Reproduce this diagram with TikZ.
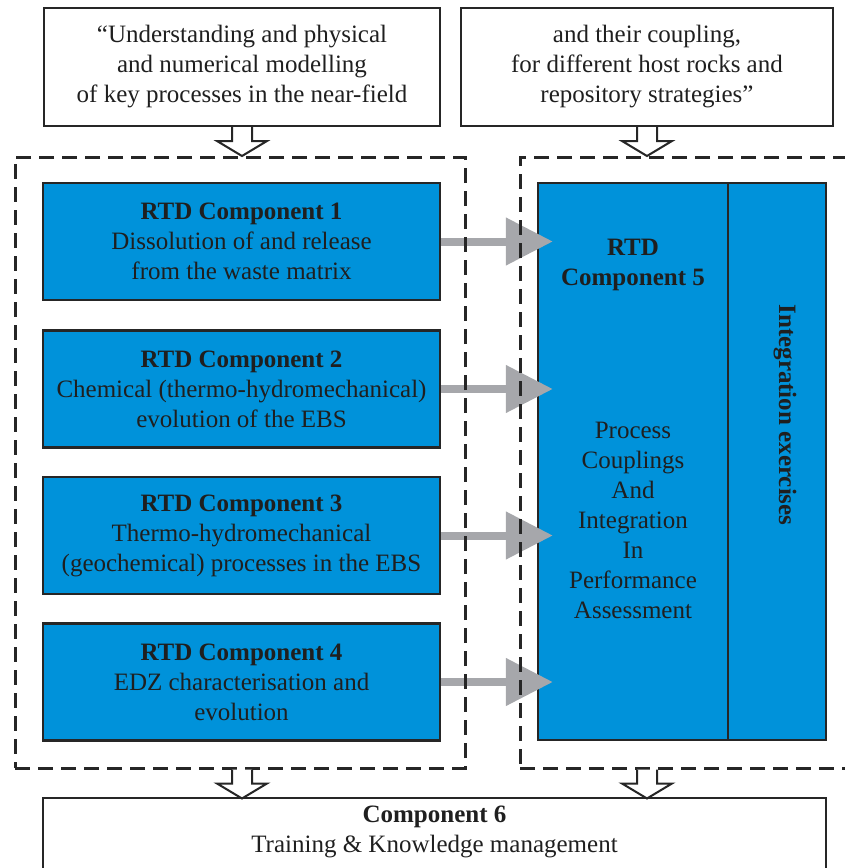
\documentclass[tikz,border=0pt]{standalone}
\usepackage{fontspec}
\setmainfont{Liberation Serif}
\usetikzlibrary{arrows.meta}
\definecolor{rtdblue}{RGB}{0,146,218}
\definecolor{flowgray}{RGB}{166,167,171}
\newcommand{\diagfont}{\fontsize{12.5}{15}\selectfont}
\newcommand{\hollowdown}[1]{\draw[hollow] (#1) ++(-10,0) -- ++(0,14) -- ++(-15,0) -- ++(25,15) -- ++(25,-15) -- ++(-15,0) -- ++(0,-14);}

\begin{document}
\begin{tikzpicture}[x=0.5pt, y=-0.5pt,
    every node/.style={font=\diagfont, text=black!88},
    quote/.style={draw=black!85, line width=1pt, align=center, minimum width=198pt, minimum height=59pt},
    rtd/.style={draw=black!85, line width=1.2pt, fill=rtdblue, align=center, minimum width=198.5pt, minimum height=58.5pt},
    column/.style={draw=black!85, line width=1.2pt, fill=rtdblue, minimum height=278.5pt},
    frame/.style={draw=black!85, line width=1.5pt, dash pattern=on 7.5pt off 4pt},
    hollow/.style={draw=black!85, line width=1pt, fill=white},
    feed/.style={-{Triangle[length=23.5pt, width=23pt]}, line width=4pt, flowgray}
]
\useasboundingbox (0,0) rectangle (845,868);
\clip (0,0) rectangle (845,868);

\node[quote] (topL) at (242,67) {“Understanding and physical\\and numerical modelling\\of key processes in the near-field};
\node[quote, minimum width=186pt] (topR) at (647,67) {and their coupling,\\for different host rocks and\\repository strategies”};

\node[rtd] (rtd1) at (241.5,241.5) {\textbf{RTD Component 1}\\Dissolution of and release\\from the waste matrix};
\node[rtd] (rtd2) at (241.5,389) {\textbf{RTD Component 2}\\Chemical (thermo-hydromechanical)\\evolution of the EBS};
\node[rtd] (rtd3) at (241.5,535.5) {\textbf{RTD Component 3}\\Thermo-hydromechanical\\(geochemical) processes in the EBS};
\node[rtd] (rtd4) at (241.5,682) {\textbf{RTD Component 4}\\EDZ characterisation and\\evolution};

\node[column, minimum width=95pt] (comp5) at (633,461.5) {};
\node[column, minimum width=49pt] (integ) at (777,461.5) {};
\node[font=\diagfont\bfseries, align=center] (comp5title) at (633,265) {RTD\\Component 5};
\node[align=center] (comp5text) at (633,520) {Process\\Couplings\\And\\Integration\\In\\Performance\\Assessment};
\node[font=\diagfont\bfseries, rotate=-90] (integtext) at (785,415) {Integration exercises};

\foreach \n in {1,...,4}
  \draw[feed] (rtd\n.east) -- ([xshift=8pt]rtd\n.east -| comp5.west);

\node[frame, minimum width=225pt, minimum height=305.5pt] (leftframe) at (240,462.5) {};
\node[frame, minimum width=165pt, minimum height=305.5pt] (rightframe) at (685,462.5) {};

\node[quote, anchor=north, minimum width=391.5pt, minimum height=45pt] (comp6) at (434.5,797) {};
\node[align=center] (comp6text) at (434.5,832) {\textbf{Component 6}\\Training \& Knowledge management};

\hollowdown{topL.south}
\hollowdown{topR.south}
\hollowdown{topL.south |- leftframe.south}
\hollowdown{topR.south |- rightframe.south}
\end{tikzpicture}
\end{document}
